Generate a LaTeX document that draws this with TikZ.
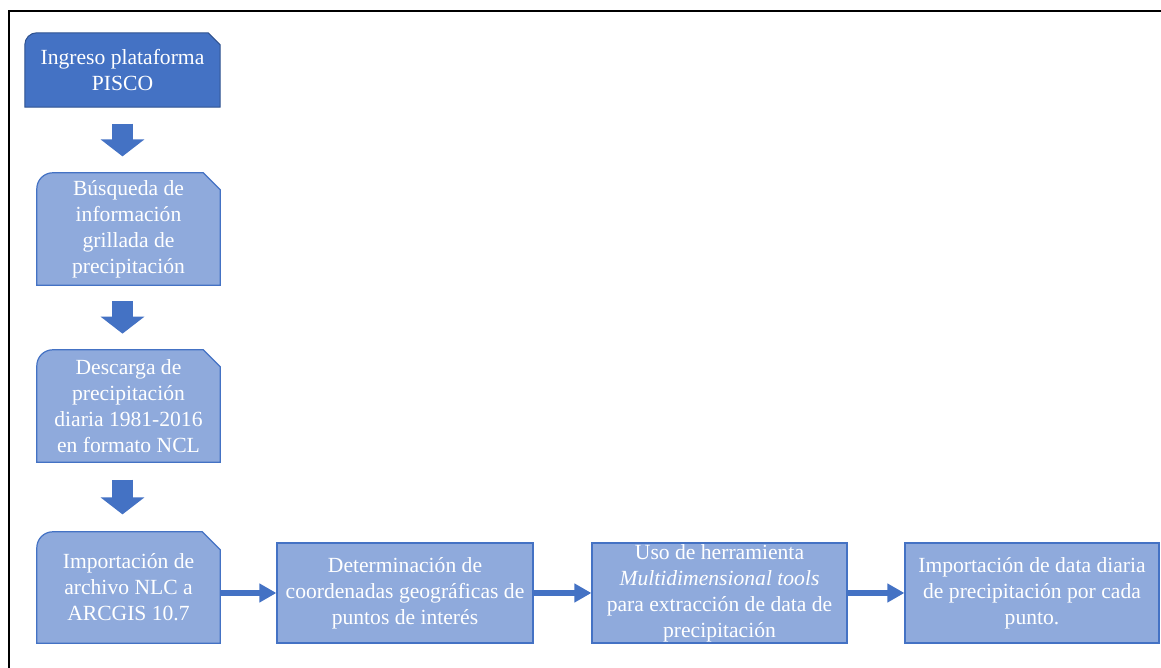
\documentclass[tikz,border=0pt]{standalone}
\usepackage{fontspec}
\setmainfont{Liberation Serif}
\usepackage{xcolor}
\usetikzlibrary{arrows.meta,positioning,calc,backgrounds}
\definecolor{Blue}{HTML}{4472C4}
\definecolor{LightBlue}{HTML}{8FAADC}
\definecolor{DarkBlue}{HTML}{2F528F}

% outline with round top-left and snipped top-right corner
\newcommand{\snipshape}[4]{%
  \path[#4] (#1.south west) -- ([yshift=-#2]#1.north west)
    arc[start angle=180,end angle=90,radius=#2] -- ([xshift=-#3]#1.north east)
    -- ([yshift=-#3]#1.north east) -- (#1.south east) -- cycle;}

\begin{document}
\begin{tikzpicture}[x=1pt,y=1pt,
    txt/.style={text=white,align=center,inner sep=0pt,font=\fontsize{21.6}{26}\selectfont},
    plainbox/.style={txt,draw=Blue,fill=LightBlue,line width=1.2pt,minimum width=255pt,minimum height=100pt},
    downarr/.style={Blue,line width=21pt,-{Triangle[width=43pt,length=17pt]}},
    rightarr/.style={Blue,line width=6pt,-{Triangle[width=18pt,length=17pt]}}]
  \useasboundingbox (0,0) rectangle (1161,668);
  \draw[line width=2.5pt] (9,-10) -- (9,657) -- (1175,657);

  \node[txt,minimum width=195pt,minimum height=74pt] (ingreso) at (122.5,598) {Ingreso plataforma\\PISCO};
  \node[txt,minimum width=183pt,minimum height=112pt] (busqueda) at (128.5,439) {Búsqueda de\\información\\grillada de\\precipitación};
  \node[txt,minimum width=183pt,minimum height=112pt] (descarga) at (128.5,262) {Descarga de\\precipitación\\diaria 1981-2016\\en formato NCL};
  \node[txt,minimum width=183pt,minimum height=111pt] (importacion) at (128.5,80.5) {Importación de\\archivo NLC a\\ARCGIS 10.7};
  \node[plainbox,minimum width=256pt] (coordenadas) at (405,75) {Determinación de\\coordenadas geográficas de\\puntos de interés};
  \node[plainbox] (herramienta) at (719.5,75) {Uso de herramienta\\\textit{Multidimensional tools}\\para extracción de data de\\precipitación};
  \node[plainbox,minimum width=254pt] (data) at (1032,75) {Importación de data diaria\\de precipitación por cada\\punto.};

  \begin{scope}[on background layer]
    \snipshape{ingreso}{12pt}{12pt}{fill=Blue,draw=DarkBlue,line width=1pt}
    \snipshape{busqueda}{16pt}{17pt}{fill=LightBlue,draw=Blue,line width=1.2pt}
    \snipshape{descarga}{16pt}{17pt}{fill=LightBlue,draw=Blue,line width=1.2pt}
    \snipshape{importacion}{16pt}{18pt}{fill=LightBlue,draw=Blue,line width=1.2pt}
  \end{scope}

  \draw[downarr] ($(ingreso.south)!0.25!(ingreso.south |- busqueda.north)$) -- ($(ingreso.south)!0.75!(ingreso.south |- busqueda.north)$);
  \draw[downarr] ($(ingreso.south |- busqueda.south)!0.25!(ingreso.south |- descarga.north)$) -- ($(ingreso.south |- busqueda.south)!0.75!(ingreso.south |- descarga.north)$);
  \draw[downarr] ($(ingreso.south |- descarga.south)!0.25!(ingreso.south |- importacion.north)$) -- ($(ingreso.south |- descarga.south)!0.75!(ingreso.south |- importacion.north)$);

  \draw[rightarr] (importacion.east |- coordenadas.west) -- (coordenadas.west);
  \draw[rightarr] (coordenadas.east) -- (herramienta.west);
  \draw[rightarr] (herramienta.east) -- (data.west);
\end{tikzpicture}
\end{document}
